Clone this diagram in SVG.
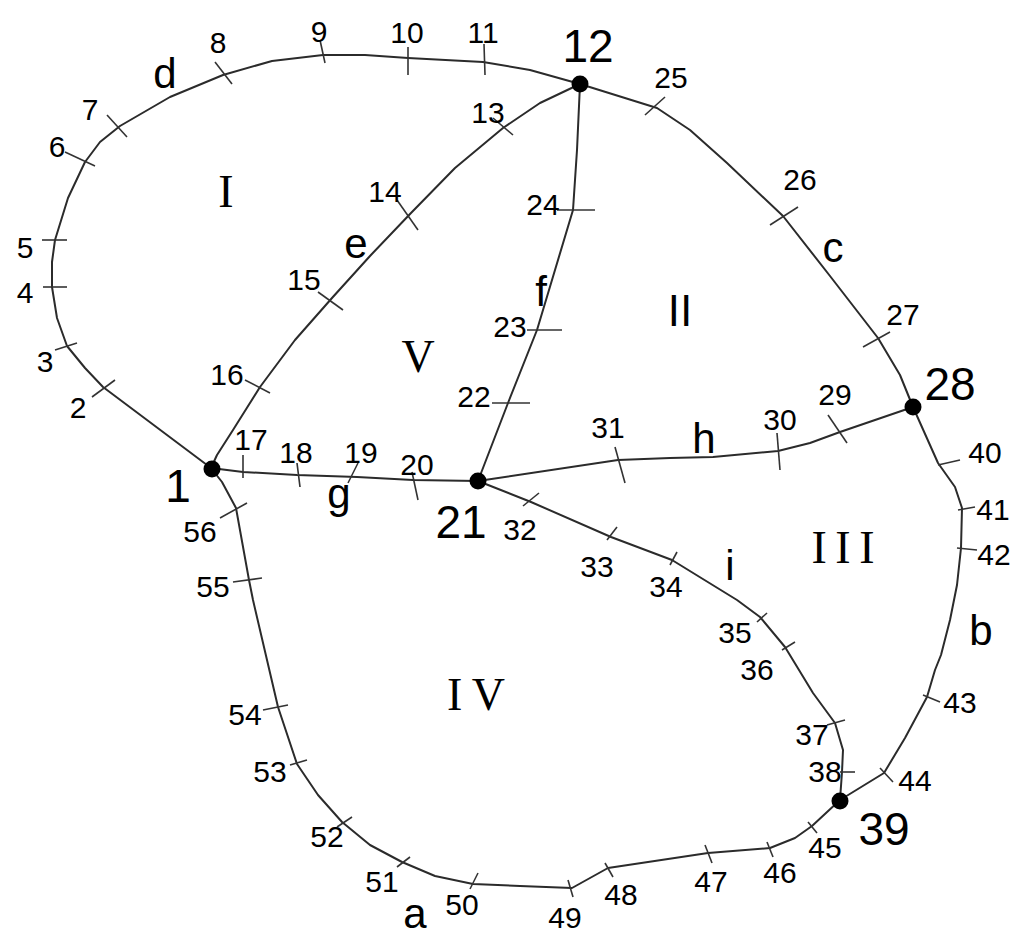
<svg xmlns="http://www.w3.org/2000/svg" width="1012" height="937" viewBox="0 0 1012 937">
<style>
.arc{fill:none;stroke:#2b2b2b;stroke-width:2;stroke-linejoin:round;stroke-linecap:round}
.tick{stroke:#333;stroke-width:1.6}
.vl{font-family:"Liberation Sans",Arial,sans-serif;font-size:30px;text-anchor:middle;fill:#000}
.nl{font-size:46px}
.al{font-size:42px}
.rl{font-family:"Liberation Serif","Times New Roman",serif;font-size:46px;text-anchor:middle;fill:#000}
.node{fill:#000}
</style>
<rect width="1012" height="937" fill="#fff"/>
<g id="connectors">
  <g id="arc-d">
    <polyline class="arc" points="211,468 103,387 85,368 67,346 57,318 52,287 52,262 55,240 68,198 85,162 100,142 120,126 170,97 223,75 272,61 323,55 365,55 408,58 483,62 530,70 580,84"/>
    <line class="tick" x1="92" y1="397" x2="115" y2="380"/>
    <line class="tick" x1="55" y1="350" x2="77" y2="343"/>
    <line class="tick" x1="43" y1="287" x2="67" y2="287"/>
    <line class="tick" x1="42" y1="240" x2="67" y2="240"/>
    <line class="tick" x1="65" y1="152" x2="95" y2="166"/>
    <line class="tick" x1="107" y1="115" x2="127" y2="137"/>
    <line class="tick" x1="215" y1="62" x2="232" y2="84"/>
    <line class="tick" x1="320" y1="40" x2="325" y2="63"/>
    <line class="tick" x1="408" y1="47" x2="408" y2="75"/>
    <line class="tick" x1="484" y1="44" x2="485" y2="75"/>
  </g>
  <g id="arc-e">
    <polyline class="arc" points="211,468 217,455 233,430 260,387 295,340 332,298 370,256 411,213 455,168 503,128 540,103 580,84"/>
    <line class="tick" x1="493" y1="118" x2="513" y2="135"/>
    <line class="tick" x1="397" y1="200" x2="418" y2="230"/>
    <line class="tick" x1="318" y1="292" x2="343" y2="310"/>
    <line class="tick" x1="245" y1="380" x2="270" y2="393"/>
  </g>
  <g id="arc-f">
    <polyline class="arc" points="580,84 577,150 573,210 555,270 537,330 508,403 478,481"/>
    <line class="tick" x1="557" y1="210" x2="595" y2="210"/>
    <line class="tick" x1="527" y1="330" x2="562" y2="330"/>
    <line class="tick" x1="492" y1="403" x2="530" y2="403"/>
  </g>
  <g id="arc-c">
    <polyline class="arc" points="580,84 657,108 690,130 727,163 783,216 830,276 878,338 900,375 913,407"/>
    <line class="tick" x1="645" y1="115" x2="665" y2="97"/>
    <line class="tick" x1="770" y1="225" x2="798" y2="207"/>
    <line class="tick" x1="863" y1="347" x2="890" y2="332"/>
  </g>
  <g id="arc-g">
    <polyline class="arc" points="211,468 243,472 297,475 357,477 413,480 478,481"/>
    <line class="tick" x1="243" y1="455" x2="243" y2="478"/>
    <line class="tick" x1="297" y1="463" x2="300" y2="487"/>
    <line class="tick" x1="358" y1="463" x2="348" y2="483"/>
    <line class="tick" x1="412" y1="472" x2="418" y2="500"/>
  </g>
  <g id="arc-h">
    <polyline class="arc" points="478,481 618,460 670,458 713,457 778,451 810,443 840,432 913,407"/>
    <line class="tick" x1="615" y1="447" x2="625" y2="483"/>
    <line class="tick" x1="777" y1="433" x2="780" y2="470"/>
    <line class="tick" x1="828" y1="415" x2="847" y2="443"/>
  </g>
  <g id="arc-i">
    <polyline class="arc" points="478,481 531,502 611,537 672,560 737,600 760,617 785,647 813,693 835,723 843,750 842,772 840,800"/>
    <line class="tick" x1="523" y1="506" x2="539" y2="493"/>
    <line class="tick" x1="607" y1="540" x2="617" y2="527"/>
    <line class="tick" x1="670" y1="565" x2="677" y2="552"/>
    <line class="tick" x1="757" y1="622" x2="767" y2="613"/>
    <line class="tick" x1="782" y1="650" x2="795" y2="642"/>
    <line class="tick" x1="827" y1="725" x2="845" y2="720"/>
    <line class="tick" x1="840" y1="772" x2="855" y2="772"/>
  </g>
  <g id="arc-b">
    <polyline class="arc" points="913,407 938,463 955,487 962,508 961,548 957,585 950,620 941,655 935,670 927,697 905,738 884,773 840,800"/>
    <line class="tick" x1="938" y1="465" x2="960" y2="460"/>
    <line class="tick" x1="958" y1="510" x2="975" y2="507"/>
    <line class="tick" x1="957" y1="548" x2="977" y2="550"/>
    <line class="tick" x1="923" y1="695" x2="940" y2="702"/>
    <line class="tick" x1="880" y1="768" x2="893" y2="782"/>
  </g>
  <g id="arc-a">
    <polyline class="arc" points="211,468 222,482 236,508 249,580 253,600 278,707 297,764 318,795 342,822 370,845 402,862 435,876 473,884 520,886 572,888 608,868 708,853 770,848 795,838 812,826 840,800"/>
    <line class="tick" x1="808" y1="822" x2="817" y2="833"/>
    <line class="tick" x1="767" y1="842" x2="773" y2="857"/>
    <line class="tick" x1="705" y1="845" x2="712" y2="863"/>
    <line class="tick" x1="605" y1="863" x2="613" y2="877"/>
    <line class="tick" x1="568" y1="880" x2="573" y2="897"/>
    <line class="tick" x1="470" y1="889" x2="478" y2="873"/>
    <line class="tick" x1="397" y1="867" x2="410" y2="857"/>
    <line class="tick" x1="337" y1="827" x2="352" y2="817"/>
    <line class="tick" x1="290" y1="765" x2="307" y2="760"/>
    <line class="tick" x1="263" y1="710" x2="288" y2="705"/>
    <line class="tick" x1="233" y1="582" x2="262" y2="578"/>
    <line class="tick" x1="220" y1="518" x2="247" y2="503"/>
  </g>
</g>
<g id="arc-labels" class="vl al">
  <text x="415" y="928">a</text>
  <text x="981" y="645">b</text>
  <text x="833" y="262">c</text>
  <text x="165" y="88">d</text>
  <text x="356" y="258">e</text>
  <text x="541" y="306">f</text>
  <text x="339" y="508">g</text>
  <text x="704" y="453">h</text>
  <text x="730" y="580">i</text>
</g>
<g id="regions">
  <text class="rl" x="226" y="207">I</text>
  <text x="680" y="326" style="font-family:'Noto Sans CJK SC','Liberation Serif',serif;font-size:42px;text-anchor:middle">Ⅱ</text>
  <text class="rl" x="843" y="563" textLength="63" lengthAdjust="spacing">III</text>
  <text class="rl" x="476" y="710" textLength="58" lengthAdjust="spacing">IV</text>
  <text class="rl" x="418" y="372">V</text>
</g>
<g id="vertex-labels" class="vl">
  <text x="78" y="418">2</text>
  <text x="45" y="372">3</text>
  <text x="25" y="303">4</text>
  <text x="25" y="258">5</text>
  <text x="57" y="157">6</text>
  <text x="90" y="120">7</text>
  <text x="218" y="53">8</text>
  <text x="319" y="42">9</text>
  <text x="407" y="43">10</text>
  <text x="483" y="43">11</text>
  <text x="488" y="123">13</text>
  <text x="385" y="202">14</text>
  <text x="304" y="290">15</text>
  <text x="227" y="385">16</text>
  <text x="251" y="450">17</text>
  <text x="296" y="463">18</text>
  <text x="361" y="463">19</text>
  <text x="417" y="475">20</text>
  <text x="474" y="407">22</text>
  <text x="510" y="337">23</text>
  <text x="543" y="215">24</text>
  <text x="671" y="88">25</text>
  <text x="800" y="190">26</text>
  <text x="903" y="325">27</text>
  <text x="835" y="405">29</text>
  <text x="780" y="430">30</text>
  <text x="608" y="438">31</text>
  <text x="520" y="540">32</text>
  <text x="597" y="577">33</text>
  <text x="666" y="597">34</text>
  <text x="735" y="643">35</text>
  <text x="757" y="680">36</text>
  <text x="812" y="745">37</text>
  <text x="825" y="782">38</text>
  <text x="985" y="463">40</text>
  <text x="993" y="520">41</text>
  <text x="994" y="565">42</text>
  <text x="960" y="713">43</text>
  <text x="915" y="791">44</text>
  <text x="825" y="858">45</text>
  <text x="780" y="883">46</text>
  <text x="711" y="892">47</text>
  <text x="621" y="905">48</text>
  <text x="565" y="928">49</text>
  <text x="462" y="915">50</text>
  <text x="382" y="892">51</text>
  <text x="327" y="847">52</text>
  <text x="270" y="782">53</text>
  <text x="245" y="725">54</text>
  <text x="213" y="597">55</text>
  <text x="200" y="542">56</text>
</g>
<g id="node-1"><circle class="node" cx="212" cy="469" r="8.5"/><text class="vl nl" x="178" y="502">1</text></g>
<g id="node-12"><circle class="node" cx="580" cy="84" r="8.5"/><text class="vl nl" x="588" y="62">12</text></g>
<g id="node-21"><circle class="node" cx="478" cy="481" r="8.5"/><text class="vl nl" x="461" y="538">21</text></g>
<g id="node-28"><circle class="node" cx="913" cy="407" r="8.5"/><text class="vl nl" x="950" y="400">28</text></g>
<g id="node-39"><circle class="node" cx="840" cy="801" r="8.5"/><text class="vl nl" x="884" y="845">39</text></g>
</svg>
